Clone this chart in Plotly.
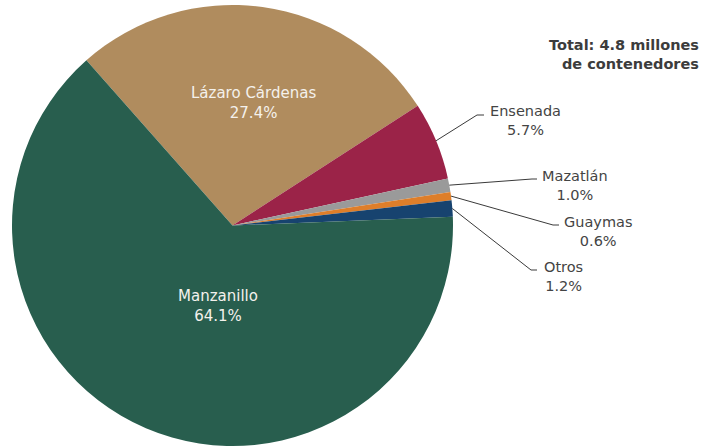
import math
import plotly.graph_objects as go

# Container traffic share by port (percent of total)
ports = ["Lázaro Cárdenas", "Ensenada", "Mazatlán", "Guaymas", "Otros", "Manzanillo"]
shares = [27.4, 5.7, 1.0, 0.6, 1.2, 64.1]
colors = ["#B08C5E", "#9B2348", "#9A9A9A", "#DE7E2A", "#17436F", "#285E4E"]
total_label = "Total: 4.8 millones<br>de contenedores"

W, H = 705, 447
FONT = "DejaVu Sans"
TEXT = "#444444"

# Pie placement in pixels (page has no margins)
cx, cy, r = 232.5, 225.5, 220.5
rotation = -41.5

def px(x):
    return x / W

def py(y):
    return 1 - y / H

fig = go.Figure(go.Pie(
    labels=ports,
    values=shares,
    sort=False,
    direction="clockwise",
    rotation=rotation,
    marker=dict(colors=colors, line=dict(width=0)),
    textinfo="none",
    hoverinfo="label+percent",
    showlegend=False,
    domain=dict(x=[px(cx - r), px(cx + r)], y=[py(cy + r), py(cy - r)]),
))

def mid_angle(i):
    tot = sum(shares)
    start = sum(shares[:i]) / tot * 360
    return math.radians(rotation + start + shares[i] / tot * 180)

def edge_point(i):
    a = mid_angle(i)
    return cx + r * math.sin(a), cy - r * math.cos(a)

annotations = []
shapes = []

# Labels drawn inside the two large slices
inside = {"Lázaro Cárdenas": (253, 103), "Manzanillo": (218, 306)}
for name, (lx, ly) in inside.items():
    i = ports.index(name)
    annotations.append(dict(
        x=px(lx), y=py(ly), xref="paper", yref="paper",
        text=f"{name}<br>{shares[i]:.1f}%", showarrow=False,
        font=dict(family=FONT, size=15, color="#F4F1EC"),
        xanchor="center", yanchor="middle", align="center"))

# Outside labels: (knee x, knee y, line end x, label centre x)
outside = {
    "Ensenada": (477, 115, 484, 525),
    "Mazatlán": (532, 179, 537, 575),
    "Guaymas": (553, 225, 559, 598),
    "Otros": (531, 270, 537, 563),
}
for name, (kx, ky, ex, lx) in outside.items():
    i = ports.index(name)
    sx, sy = edge_point(i)
    path = f"M {px(sx)},{py(sy)} L {px(kx)},{py(ky)} L {px(ex)},{py(ky)}"
    shapes.append(dict(type="path", path=path, xref="paper", yref="paper",
                       line=dict(color="#3A3A3A", width=1)))
    annotations.append(dict(
        x=px(lx), y=py(ky + 6), xref="paper", yref="paper",
        text=f"{name}<br>{shares[i]:.1f}%", showarrow=False,
        font=dict(family=FONT, size=14.5, color=TEXT),
        xanchor="center", yanchor="middle", align="center"))

annotations.append(dict(
    x=px(701), y=py(54), xref="paper", yref="paper",
    text=f"<b>{total_label}</b>", showarrow=False,
    font=dict(family=FONT, size=14.5, color="#3C3C3C"),
    xanchor="right", yanchor="middle", align="right"))

fig.update_layout(
    width=W, height=H,
    margin=dict(l=0, r=0, t=0, b=0),
    paper_bgcolor="white", plot_bgcolor="white",
    annotations=annotations, shapes=shapes,
)

fig.write_html("out.html")
